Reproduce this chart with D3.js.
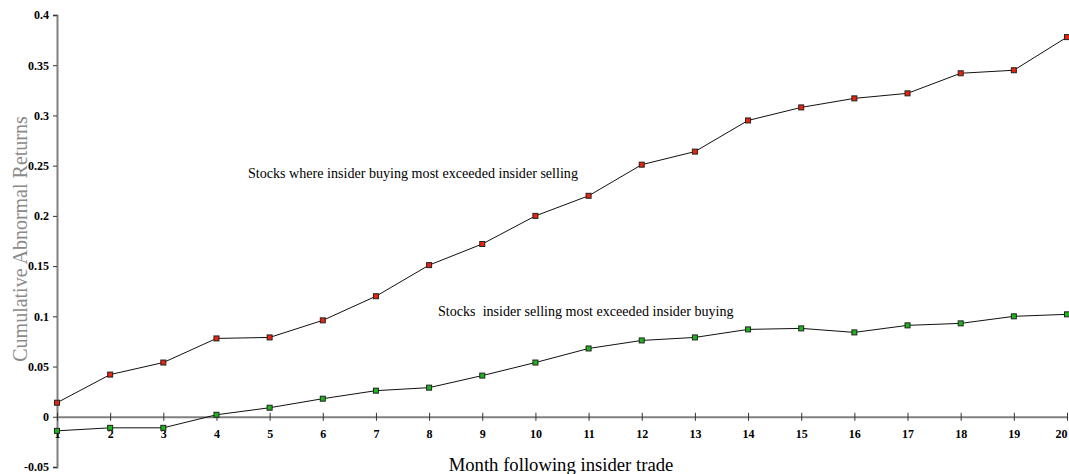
<!DOCTYPE html>
<html><head><meta charset="utf-8">
<script src="https://cdn.jsdelivr.net/npm/d3@7"></script>
<style>html,body{margin:0;padding:0;background:#fff;overflow:hidden}</style>
</head><body>
<svg id="chart" width="1069" height="474"></svg>
<script>
const months = [1,2,3,4,5,6,7,8,9,10,11,12,13,14,15,16,17,18,19,20];
const buyingSeries = [0.014,0.042,0.054,0.078,0.079,0.096,0.120,0.151,0.172,0.200,0.220,0.251,0.264,0.295,0.308,0.317,0.322,0.342,0.345,0.378];
const sellingSeries = [-0.014,-0.011,-0.011,0.002,0.009,0.018,0.026,0.029,0.041,0.054,0.068,0.076,0.079,0.087,0.088,0.084,0.091,0.093,0.100,0.102];
const yTicks = [-0.05,0,0.05,0.1,0.15,0.2,0.25,0.3,0.35,0.4];
const yTickLabels = ["-0.05","0","0.05","0.1","0.15","0.2","0.25","0.3","0.35","0.4"];
const buyingLabel = "Stocks where insider buying most exceeded insider selling";
const sellingLabel = "Stocks  insider selling most exceeded insider buying";
const xTitle = "Month following insider trade";
const yTitle = "Cumulative Abnormal Returns";

const svg = d3.select("#chart");
const x = d3.scalePoint().domain(months).range([57,1067]);
const y = d3.scaleLinear().domain([-0.05,0.4]).range([467,15]);
const serif = "'Liberation Serif','Times New Roman',serif";
const axisColor = "#808080";

// Y axis
const yAxis = svg.append("g").attr("transform","translate(57,0)")
  .call(d3.axisLeft(y).tickValues(yTicks).tickSize(4).tickPadding(4)
    .tickFormat((d,i)=>yTickLabels[i]));
yAxis.select(".domain").attr("stroke",axisColor).attr("stroke-width",2);
yAxis.selectAll(".tick line").attr("stroke","#333");
yAxis.selectAll(".tick text").attr("font-family",serif).attr("font-size",12)
  .attr("font-weight","bold").attr("fill","#000");

// X axis at zero
const xAxis = svg.append("g").attr("transform",`translate(0,${y(0)})`)
  .call(d3.axisBottom(x).tickSize(4).tickPadding(9).tickSizeOuter(0));
xAxis.select(".domain").attr("stroke",axisColor).attr("stroke-width",2);
xAxis.selectAll(".tick line").attr("stroke","#333").attr("y1",-4).attr("y2",4);
xAxis.selectAll(".tick text").attr("font-family",serif).attr("font-size",12)
  .attr("font-weight","bold").attr("fill","#000");
xAxis.selectAll(".tick text").filter(d=>d===months[months.length-1])
  .attr("text-anchor","end").attr("dx",0);

// Lines
const line = d3.line().x((d,i)=>x(months[i])).y(d=>y(d));
function drawSeries(data, color){
  svg.append("path").datum(data).attr("d",line).attr("fill","none")
    .attr("stroke","#111").attr("stroke-width",1);
  svg.append("g").selectAll("rect").data(data).join("rect")
    .attr("x",(d,i)=>x(months[i])-2.5).attr("y",d=>y(d)-2.5)
    .attr("width",5).attr("height",5)
    .attr("fill",color).attr("stroke","#222").attr("stroke-width",1);
}
drawSeries(buyingSeries,"#e8240f");
drawSeries(sellingSeries,"#1cb51c");

// Annotations
svg.append("text").attr("x",248).attr("y",178).text(buyingLabel)
  .attr("font-family",serif).attr("font-size",14.1).attr("fill","#000");
svg.append("text").attr("x",438).attr("y",316).text(sellingLabel)
  .attr("font-family",serif).attr("font-size",14.1).attr("fill","#000").style("white-space","pre");

// Axis titles
svg.append("text").attr("x",561).attr("y",471).attr("text-anchor","middle").text(xTitle)
  .attr("font-family",serif).attr("font-size",18.7).attr("fill","#000");
svg.append("text").attr("transform","translate(27,239) rotate(-90)").attr("text-anchor","middle")
  .text(yTitle).attr("font-family",serif).attr("font-size",20).attr("fill","#8a8a8a");
</script>
</body></html>
